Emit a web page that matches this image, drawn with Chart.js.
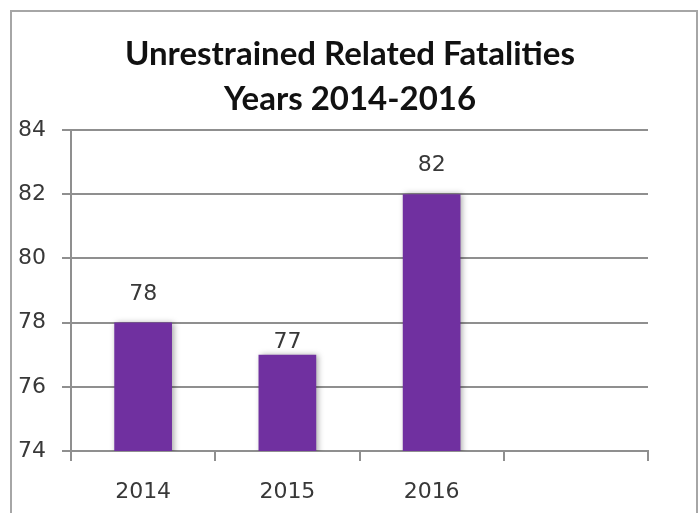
<!DOCTYPE html>
<html>
<head>
<meta charset="utf-8">
<script src="https://cdn.jsdelivr.net/npm/chart.js@4/dist/chart.umd.min.js"></script>
<style>
  body { margin: 0; background: #fff; }
  #wrap { position: relative; width: 700px; height: 513px; overflow: hidden; }
  #frame { position: absolute; left: 10px; top: 10px; width: 684px; height: 530px;
           border: 2px solid #a6a6a6; pointer-events: none; }
  canvas { position: absolute; left: 0; top: 0; }
</style>
</head>
<body>
<div id="wrap">
  <canvas id="chart" width="700" height="513"></canvas>
  <div id="frame"></div>
</div>
<script>
// values
const years = ['2014', '2015', '2016', ''];
const fatalities = [78, 77, 82, null];
const yTicks = [74, 76, 78, 80, 82, 84];

const gridGray = '#8f8f8f';
const textGray = '#383838';

// bar shadow, like the office chart
const shadowPlugin = {
  id: 'barShadow',
  beforeDatasetsDraw(chart) {
    const ctx = chart.ctx;
    ctx.save();
    ctx.shadowColor = 'rgba(0,0,0,0.35)';
    ctx.shadowBlur = 6;
    ctx.shadowOffsetX = 2;
    ctx.shadowOffsetY = 0;
  },
  afterDatasetsDraw(chart) {
    chart.ctx.restore();
  }
};

// value labels above the bars (the 2015 one sits lower, as in the original)
const valueLabels = {
  id: 'valueLabels',
  afterDraw(chart) {
    const ctx = chart.ctx;
    const meta = chart.getDatasetMeta(0);
    const lift = [28, 12, 29, 28];
    ctx.save();
    ctx.font = '22px "DejaVu Sans"';
    ctx.fillStyle = textGray;
    ctx.textAlign = 'center';
    ctx.textBaseline = 'middle';
    meta.data.forEach((bar, i) => {
      const v = fatalities[i];
      if (v == null) return;
      ctx.fillText(String(v), bar.x, bar.y - lift[i]);
    });
    ctx.restore();
  }
};

const ctx = document.getElementById('chart').getContext('2d');
const chart = new Chart(ctx, {
  type: 'bar',
  data: {
    labels: years,
    datasets: [{
      label: 'Unrestrained Related Fatalities',
      data: fatalities,
      backgroundColor: '#7030a0',
      borderWidth: 0,
      categoryPercentage: 1,
      barPercentage: 0.4
    }]
  },
  options: {
    responsive: false,
    animation: false,
    layout: { padding: 0 },
    plugins: {
      legend: { display: false },
      tooltip: { enabled: false },
      title: {
        display: true,
        text: ['Unrestrained Related Fatalities', 'Years 2014-2016'],
        color: '#111',
        font: { family: 'Lato', size: 33, weight: 'bold', lineHeight: 45 / 33 },
        padding: { top: 32, bottom: 8 }
      }
    },
    scales: {
      x: {
        offset: true,
        grid: {
          offset: true,
          drawOnChartArea: false,
          drawTicks: true,
          tickLength: 10,
          color: gridGray,
          lineWidth: 2
        },
        border: { display: true, color: gridGray, width: 2 },
        ticks: {
          color: textGray,
          padding: 18,
          font: { family: 'DejaVu Sans', size: 22 }
        },
        afterFit(scale) { scale.height = 62; }
      },
      y: {
        min: 74,
        max: 84,
        afterBuildTicks(scale) { scale.ticks = yTicks.map(v => ({ value: v })); },
        grid: {
          color: gridGray,
          lineWidth: 2,
          drawTicks: true,
          tickLength: 9
        },
        border: { display: true, color: gridGray, width: 2 },
        ticks: {
          color: textGray,
          padding: 16,
          font: { family: 'DejaVu Sans', size: 22 }
        },
        afterFit(scale) { scale.width = 71; }
      },
      // empty strip on the right so the plot ends where the original does
      yRight: {
        position: 'right',
        min: 74,
        max: 84,
        grid: { display: false },
        border: { display: false },
        ticks: { display: false },
        afterFit(scale) { scale.width = 52; }
      }
    }
  },
  plugins: [shadowPlugin, valueLabels]
});
</script>
</body>
</html>
